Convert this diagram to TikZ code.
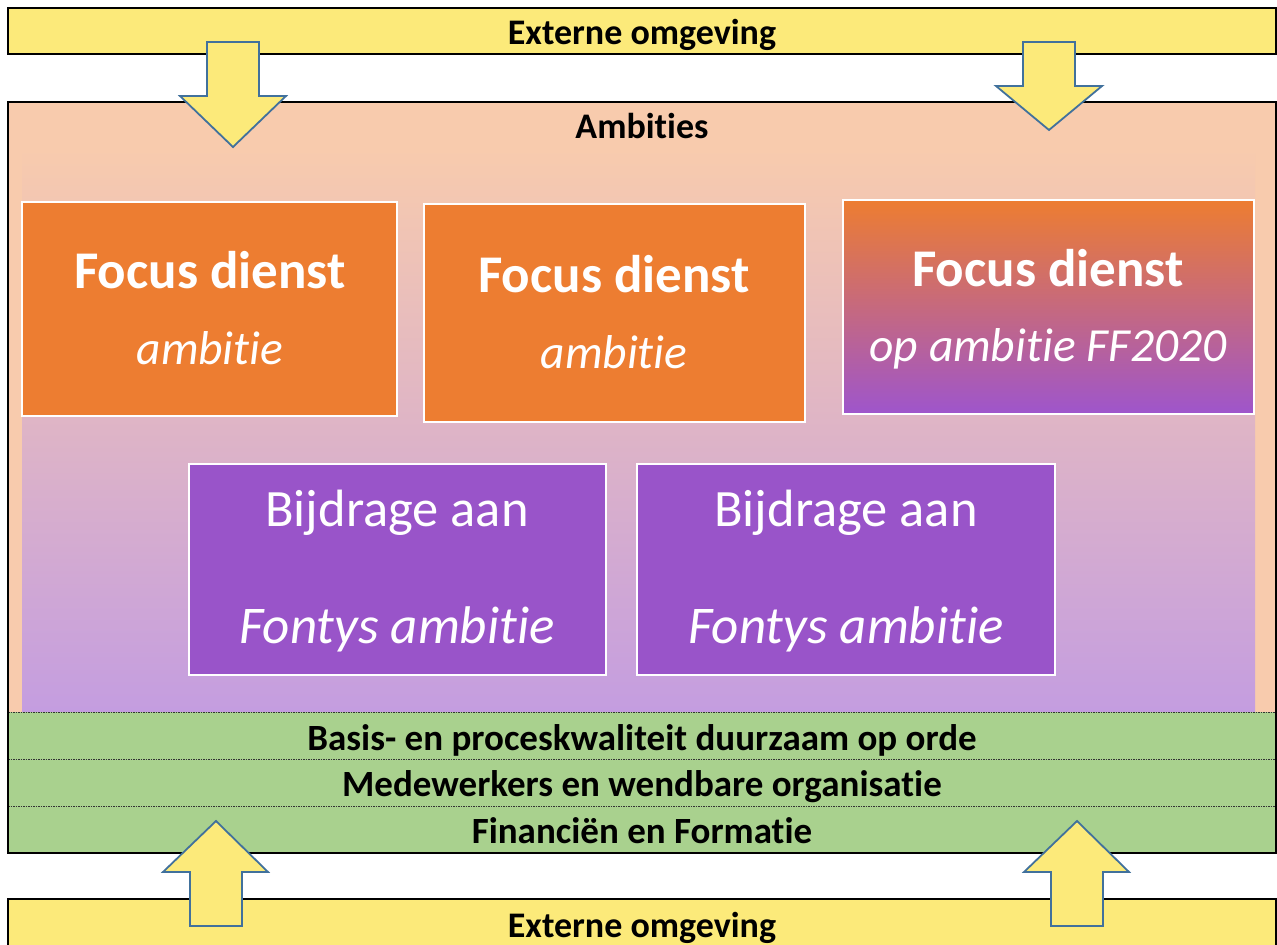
\documentclass[tikz,border=0pt]{standalone}
\usepackage{fontspec}
\setmainfont[Ligatures={NoCommon}]{Carlito}
\definecolor{bary}{HTML}{FCEA7A}
\definecolor{peach}{HTML}{F8CBAD}
\definecolor{lav}{HTML}{C49DE0}
\definecolor{orng}{HTML}{ED7D31}
\definecolor{purp}{HTML}{9954C9}
\definecolor{purp2}{HTML}{9E55CC}
\definecolor{grn}{HTML}{A9D18E}
\definecolor{arrowline}{HTML}{41719C}
\tikzset{
  outline/.style={draw=black,line width=1.5pt},
  ybar/.style={outline,fill=bary},
  bigarrow/.style={draw=arrowline,fill=bary,line width=1.8pt,line join=miter},
  focusbox/.style={draw=white,line width=2pt,fill=orng},
  bijbox/.style={draw=white,line width=2pt,fill=purp},
  sepline/.style={draw=black!80,line width=1pt,dash pattern=on 1.5pt off 1pt},
  title/.style={font=\fontsize{36}{40}\selectfont\bfseries,anchor=base},
  greentext/.style={font=\fontsize{37}{40}\selectfont\bfseries,anchor=base},
  bigbold/.style={font=\fontsize{53}{58}\selectfont\bfseries,text=white,anchor=base},
  bigit/.style={font=\fontsize{47.5}{52}\selectfont\itshape,text=white,anchor=base},
  bigreg/.style={font=\fontsize{52.5}{58}\selectfont,text=white,anchor=base},
  bigit2/.style={font=\fontsize{53}{58}\selectfont\itshape,text=white,anchor=base},
}
\begin{document}
\begin{tikzpicture}[x=1pt,y=-1pt]
\useasboundingbox (0,0) rectangle (1277,945);
\clip (0,0) rectangle (1277,945);
\fill[white] (0,0) rectangle (1277,945);
% top bar
\draw[ybar] (8,8) rectangle (1276,54);
\node[title] (ext1) at (642,44) {Externe omgeving};
% main box
\fill[peach] (8,102) rectangle (1276,712);
\shade[top color=peach,bottom color=lav] (22,147) rectangle (1255,712);
\fill[grn] (8,712) rectangle (1276,853);
\draw[sepline] (8,712) -- (1276,712);
\draw[sepline] (8,759) -- (1276,759);
\draw[sepline] (8,806) -- (1276,806);
\draw[outline] (8,102) rectangle (1276,853);
\node[title] (amb) at (642,138) {Ambities};
% focus boxes
\draw[focusbox] (22,202) rectangle (397,416);
\node[bigbold] (f1a) at (210,288) {Focus dienst};
\node[bigit] (f1b) at (210,364) {ambitie};
\draw[focusbox] (424,204) rectangle (805,422);
\node[bigbold] (f2a) at (614,292) {Focus dienst};
\node[bigit] (f2b) at (614,368) {ambitie};
\shade[top color=orng,bottom color=purp2] (843,200) rectangle (1254,414);
\draw[draw=white,line width=2pt] (843,200) rectangle (1254,414);
\node[bigbold] (f3a) at (1048,286) {Focus dienst};
\node[bigit] (f3b) at (1048,361) {op ambitie FF2020};
% bijdrage boxes
\draw[bijbox] (189,464) rectangle (606,675);
\node[bigreg] (b1a) at (397,526) {Bijdrage aan};
\node[bigit2] (b1b) at (397,643) {Fontys ambitie};
\draw[bijbox] (637,464) rectangle (1055,675);
\node[bigreg] (b2a) at (846,526) {Bijdrage aan};
\node[bigit2] (b2b) at (846,643) {Fontys ambitie};
% green texts
\node[greentext] (g1) at (642,750) {Basis- en proceskwaliteit duurzaam op orde};
\node[greentext] (g2) at (642,796) {Medewerkers en wendbare organisatie};
\node[greentext] (g3) at (642,843) {Financiën en Formatie};
% bottom bar
\draw[ybar] (8,899) rectangle (1276,960);
\node[title] (ext2) at (642,937) {Externe omgeving};
% arrows down
\draw[bigarrow] (207,42) -- (259,42) -- (259,96) -- (286,96) -- (233,147) -- (180,96) -- (207,96) -- cycle;
\draw[bigarrow] (1023,42) -- (1075,42) -- (1075,86) -- (1102,86) -- (1049,130) -- (996,86) -- (1023,86) -- cycle;
% arrows up
\draw[bigarrow] (190,926) -- (242,926) -- (242,872) -- (268,872) -- (216,821) -- (163,872) -- (190,872) -- cycle;
\draw[bigarrow] (1051,926) -- (1103,926) -- (1103,872) -- (1129,872) -- (1077,821) -- (1024,872) -- (1051,872) -- cycle;
\end{tikzpicture}
\end{document}
